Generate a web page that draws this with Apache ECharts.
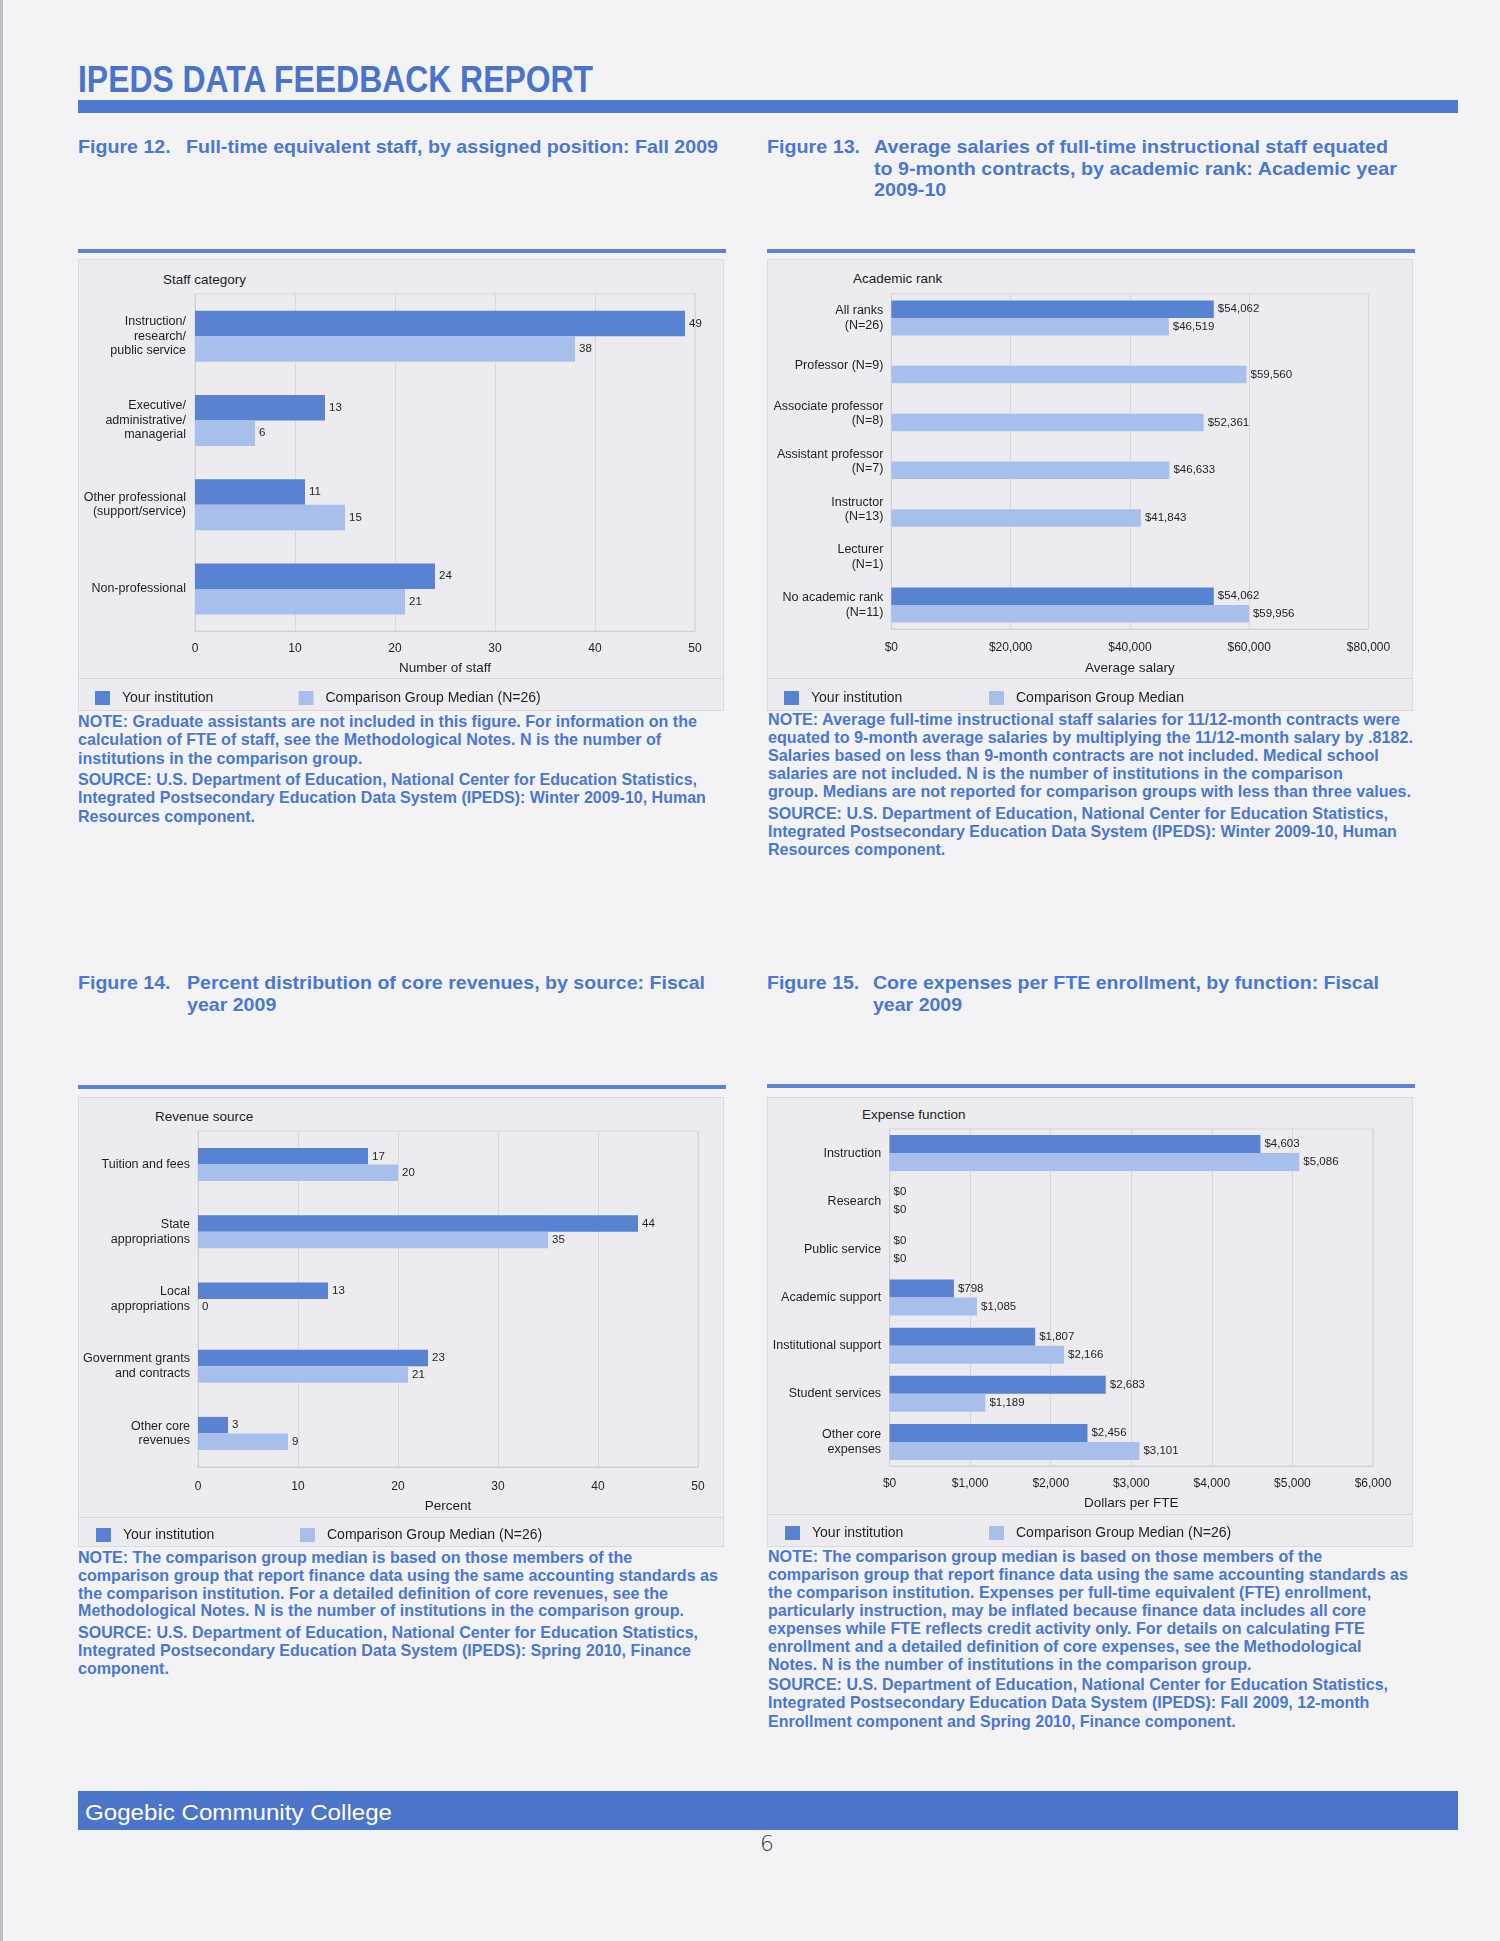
<!DOCTYPE html>
<html><head><meta charset="utf-8">
<script src="https://cdn.jsdelivr.net/npm/echarts@6/dist/echarts.min.js"></script>
<style>
html,body{margin:0;padding:0;}
body{width:1500px;height:1941px;background:#f3f3f5;position:relative;overflow:hidden;font-family:"Liberation Sans",Arial,sans-serif;}
.box{position:absolute;background:#ececf0;border:1px solid #dadadf;box-sizing:border-box;}
.legsep{position:absolute;height:1px;background:#d6d6db;}
.rule{position:absolute;height:4px;background:#5a84d6;}
.figlab,.figtxt{position:absolute;font-weight:bold;font-size:19px;line-height:21.7px;color:#4a78d2;transform-origin:0 0;white-space:nowrap;}
.figtxt span,.note span,.fit span{display:block;width:max-content;white-space:nowrap;}
.note{position:absolute;font-weight:bold;font-size:16.5px;color:#4a78d2;transform-origin:0 0;}
.ytitle{position:absolute;font-size:13.5px;line-height:16px;color:#222;white-space:nowrap;}
.fit{position:absolute;transform-origin:0 0;}
#chart{position:absolute;left:0;top:0;width:1500px;height:1941px;}
</style></head>
<body>
<div style="position:absolute;left:0;top:0;width:3px;height:1941px;background:#bdbdc2"></div>

<div class="fit" id="hdr" style="left:78px;top:61px;font-weight:bold;font-size:37px;line-height:38px;color:#4a74cb;"><span>IPEDS DATA FEEDBACK REPORT</span></div>
<div style="position:absolute;left:78px;top:100px;width:1380px;height:13px;background:#4f78cf"></div>

<div class="figlab" id="l12" style="left:78px;top:136px">Figure 12.</div>
<div class="figtxt" id="t12" style="left:186px;top:136px"><span>Full-time equivalent staff, by assigned position: Fall 2009</span></div>
<div class="figlab" id="l13" style="left:767px;top:136px">Figure 13.</div>
<div class="figtxt" id="t13" style="left:874px;top:136px"><span>Average salaries of full-time instructional staff equated</span><span>to 9-month contracts, by academic rank: Academic year</span><span>2009-10</span></div>
<div class="figlab" id="l14" style="left:78px;top:972px">Figure 14.</div>
<div class="figtxt" id="t14" style="left:187px;top:972px"><span>Percent distribution of core revenues, by source: Fiscal</span><span>year 2009</span></div>
<div class="figlab" id="l15" style="left:767px;top:972px">Figure 15.</div>
<div class="figtxt" id="t15" style="left:873px;top:972px"><span>Core expenses per FTE enrollment, by function: Fiscal</span><span>year 2009</span></div>

<div class="rule" style="left:78px;top:249px;width:648px"></div>
<div class="rule" style="left:767px;top:249px;width:648px"></div>
<div class="rule" style="left:78px;top:1085px;width:648px"></div>
<div class="rule" style="left:767px;top:1084px;width:648px"></div>

<div class="box" style="left:78px;top:259px;width:646px;height:452px"></div>
<div class="legsep" style="left:79px;top:678px;width:644px"></div>
<div class="box" style="left:767px;top:259px;width:646px;height:452px"></div>
<div class="legsep" style="left:768px;top:678px;width:644px"></div>
<div class="box" style="left:78px;top:1097px;width:646px;height:450px"></div>
<div class="legsep" style="left:79px;top:1517px;width:644px"></div>
<div class="box" style="left:767px;top:1097px;width:646px;height:450px"></div>
<div class="legsep" style="left:768px;top:1514px;width:644px"></div>

<div class="ytitle" style="left:163px;top:272px">Staff category</div>
<div class="ytitle" style="left:853px;top:271px">Academic rank</div>
<div class="ytitle" style="left:155px;top:1109px">Revenue source</div>
<div class="ytitle" style="left:862px;top:1107px">Expense function</div>

<div class="note" id="n12" style="left:78px;top:712px;line-height:18.3px"><span>NOTE: Graduate assistants are not included in this figure. For information on the</span><span>calculation of FTE of staff, see the Methodological Notes. N is the number of</span><span>institutions in the comparison group.</span></div>
<div class="note" id="s12" style="left:78px;top:770px;line-height:18.3px"><span>SOURCE: U.S. Department of Education, National Center for Education Statistics,</span><span>Integrated Postsecondary Education Data System (IPEDS): Winter 2009-10, Human</span><span>Resources component.</span></div>

<div class="note" id="n13" style="left:767.5px;top:711px;line-height:17.9px"><span>NOTE: Average full-time instructional staff salaries for 11/12-month contracts were</span><span>equated to 9-month average salaries by multiplying the 11/12-month salary by .8182.</span><span>Salaries based on less than 9-month contracts are not included. Medical school</span><span>salaries are not included. N is the number of institutions in the comparison</span><span>group. Medians are not reported for comparison groups with less than three values.</span></div>
<div class="note" id="s13" style="left:767.5px;top:803.5px;line-height:18.3px"><span>SOURCE: U.S. Department of Education, National Center for Education Statistics,</span><span>Integrated Postsecondary Education Data System (IPEDS): Winter 2009-10, Human</span><span>Resources component.</span></div>

<div class="note" id="n14" style="left:78px;top:1549px;line-height:17.8px"><span>NOTE: The comparison group median is based on those members of the</span><span>comparison group that report finance data using the same accounting standards as</span><span>the comparison institution. For a detailed definition of core revenues, see the</span><span>Methodological Notes. N is the number of institutions in the comparison group.</span></div>
<div class="note" id="s14" style="left:78px;top:1622.5px;line-height:18.3px"><span>SOURCE: U.S. Department of Education, National Center for Education Statistics,</span><span>Integrated Postsecondary Education Data System (IPEDS): Spring 2010, Finance</span><span>component.</span></div>

<div class="note" id="n15" style="left:768px;top:1547px;line-height:18px"><span>NOTE: The comparison group median is based on those members of the</span><span>comparison group that report finance data using the same accounting standards as</span><span>the comparison institution. Expenses per full-time equivalent (FTE) enrollment,</span><span>particularly instruction, may be inflated because finance data includes all core</span><span>expenses while FTE reflects credit activity only. For details on calculating FTE</span><span>enrollment and a detailed definition of core expenses, see the Methodological</span><span>Notes. N is the number of institutions in the comparison group.</span></div>
<div class="note" id="s15" style="left:768px;top:1675px;line-height:18.3px"><span>SOURCE: U.S. Department of Education, National Center for Education Statistics,</span><span>Integrated Postsecondary Education Data System (IPEDS): Fall 2009, 12-month</span><span>Enrollment component and Spring 2010, Finance component.</span></div>

<div style="position:absolute;left:78px;top:1791px;width:1380px;height:39px;background:#4c74c8"></div>
<div class="fit" id="ftr" style="left:85px;top:1800px;font-size:22px;line-height:25px;color:#ffffff;"><span>Gogebic Community College</span></div>
<div style="position:absolute;left:760px;top:1832px;font-size:22px;line-height:24px;color:#333;font-family:'DejaVu Sans',sans-serif;font-weight:300">6</div>

<div id="chart"></div>

<script>
// ---------- DATA ----------
const fig12Categories = ['Instruction/\nresearch/\npublic service', 'Executive/\nadministrative/\nmanagerial', 'Other professional\n(support/service)', 'Non-professional'];
const fig12Yours = [49, 13, 11, 24];
const fig12Median = [38, 6, 15, 21];
const fig12Ticks = [0, 10, 20, 30, 40, 50];

const fig13Categories = ['All ranks\n(N=26)', 'Professor (N=9)', 'Associate professor\n(N=8)', 'Assistant professor\n(N=7)', 'Instructor\n(N=13)', 'Lecturer\n(N=1)', 'No academic rank\n(N=11)'];
const fig13Yours = [54062, null, null, null, null, null, 54062];
const fig13Median = [46519, 59560, 52361, 46633, 41843, null, 59956];
const fig13Ticks = [0, 20000, 40000, 60000, 80000];

const fig14Categories = ['Tuition and fees', 'State\nappropriations', 'Local\nappropriations', 'Government grants\nand contracts', 'Other core\nrevenues'];
const fig14Yours = [17, 44, 13, 23, 3];
const fig14Median = [20, 35, 0, 21, 9];
const fig14Ticks = [0, 10, 20, 30, 40, 50];

const fig15Categories = ['Instruction', 'Research', 'Public service', 'Academic support', 'Institutional support', 'Student services', 'Other core\nexpenses'];
const fig15Yours = [4603, 0, 0, 798, 1807, 2683, 2456];
const fig15Median = [5086, 0, 0, 1085, 2166, 1189, 3101];
const fig15Ticks = [0, 1000, 2000, 3000, 4000, 5000, 6000];

const YOURS = 'Your institution';
const MED26 = 'Comparison Group Median (N=26)';
const MED = 'Comparison Group Median';

// ---------- TEXT FITTING ----------
function fitBlock(id, idx, target) {
  const el = document.getElementById(id);
  el.style.transform = 'none';
  const w = el.children[idx].getBoundingClientRect().width;
  const s = target / w;
  el.style.transform = 'scaleX(' + s + ')';
  return s;
}
function fitLabel(id, s) { document.getElementById(id).style.transform = 'scaleX(' + s + ')'; }
function fitAll() {
  fitBlock('hdr', 0, 515);
  fitBlock('ftr', 0, 307);
  fitLabel('l12', fitBlock('t12', 0, 532));
  fitLabel('l13', fitBlock('t13', 0, 514));
  fitLabel('l14', fitBlock('t14', 0, 518));
  fitLabel('l15', fitBlock('t15', 0, 506));
  fitBlock('n12', 0, 619); fitBlock('s12', 0, 619);
  fitBlock('n13', 0, 632); fitBlock('s13', 0, 620);
  fitBlock('n14', 1, 640); fitBlock('s14', 0, 620);
  fitBlock('n15', 1, 640); fitBlock('s15', 0, 620);
}
fitAll();
if (document.fonts && document.fonts.ready) document.fonts.ready.then(fitAll);

// ---------- CHART ----------
const C1 = '#5882d2', C2 = '#a8bfeb';
const FONT = '"Liberation Sans", Arial, sans-serif';
const TXT = '#1f1f1f';
const money = v => '$' + Number(v).toLocaleString('en-US');
const plain = v => String(v);

const grids = [
  {left: 195, top: 294, width: 500, height: 337},
  {left: 891.3, top: 294, width: 477.2, height: 335},
  {left: 198, top: 1131, width: 500, height: 336},
  {left: 889.6, top: 1129, width: 483.4, height: 337}
].map(g => Object.assign({show: true, borderColor: '#d6d6db', borderWidth: 1, backgroundColor: 'transparent', containLabel: false}, g));

function xAx(i, ticks, fmt, name, margin, nameGap) {
  return {
    type: 'value', gridIndex: i, min: ticks[0], max: ticks[ticks.length - 1], interval: ticks[1] - ticks[0],
    axisLine: {show: true, lineStyle: {color: '#cfcfd4'}}, axisTick: {show: false},
    splitLine: {show: true, lineStyle: {color: '#d6d6db', width: 1}},
    axisLabel: {color: TXT, fontSize: 12, fontFamily: FONT, margin: margin, formatter: fmt},
    name: name, nameLocation: 'middle', nameGap: nameGap,
    nameTextStyle: {color: TXT, fontSize: 13.5, fontFamily: FONT}
  };
}
function yAx(i, cats, margin) {
  return {
    type: 'category', gridIndex: i, data: cats, inverse: true,
    axisLine: {show: true, lineStyle: {color: '#cfcfd4'}}, axisTick: {show: false},
    axisLabel: {color: TXT, fontSize: 12.5, lineHeight: 14.5, fontFamily: FONT, margin: margin, align: 'right'}
  };
}
function bars(name, data, i, color, bw, fmt) {
  return {
    type: 'bar', name: name, data: data, xAxisIndex: i, yAxisIndex: i, barWidth: bw, barGap: '0%',
    itemStyle: {color: color}, silent: true,
    label: {show: true, position: 'right', distance: 4, fontSize: 11.5, fontFamily: FONT, color: TXT,
      formatter: p => (p.value === null || p.value === undefined) ? '' : fmt(p.value)}
  };
}
function leg(name, left, top) {
  return {data: [name], left: left, top: top, padding: 0, icon: 'rect', itemWidth: 15, itemHeight: 14,
    selectedMode: false, textStyle: {color: TXT, fontSize: 14, fontFamily: FONT, padding: [0, 0, 0, 7]}};
}

const chart = echarts.init(document.getElementById('chart'), null, {renderer: 'canvas'});
chart.setOption({
  animation: false,
  backgroundColor: 'transparent',
  grid: grids,
  xAxis: [
    xAx(0, fig12Ticks, plain, 'Number of staff', 12, 30),
    xAx(1, fig13Ticks, money, 'Average salary', 13, 32),
    xAx(2, fig14Ticks, plain, 'Percent', 14, 32),
    xAx(3, fig15Ticks, money, 'Dollars per FTE', 12, 30)
  ],
  yAxis: [
    yAx(0, fig12Categories, 9),
    yAx(1, fig13Categories, 8),
    yAx(2, fig14Categories, 8),
    yAx(3, fig15Categories, 8.5)
  ],
  legend: [
    leg(YOURS, 95, 691), leg(MED26, 298.5, 691),
    leg(YOURS, 784, 691), leg(MED, 989, 691),
    leg(YOURS, 96, 1528), leg(MED26, 300, 1528),
    leg(YOURS, 785, 1526), leg(MED26, 989, 1526)
  ],
  series: [
    bars(YOURS, fig12Yours, 0, C1, 25.5, plain),
    bars(MED26, fig12Median, 0, C2, 25.5, plain),
    bars(YOURS, fig13Yours, 1, C1, 17.5, money),
    bars(MED, fig13Median, 1, C2, 17.5, money),
    bars(YOURS, fig14Yours, 2, C1, 16.5, plain),
    bars(MED26, fig14Median, 2, C2, 16.5, plain),
    bars(YOURS, fig15Yours, 3, C1, 18, money),
    bars(MED26, fig15Median, 3, C2, 18, money)
  ]
});
</script>
</body></html>
